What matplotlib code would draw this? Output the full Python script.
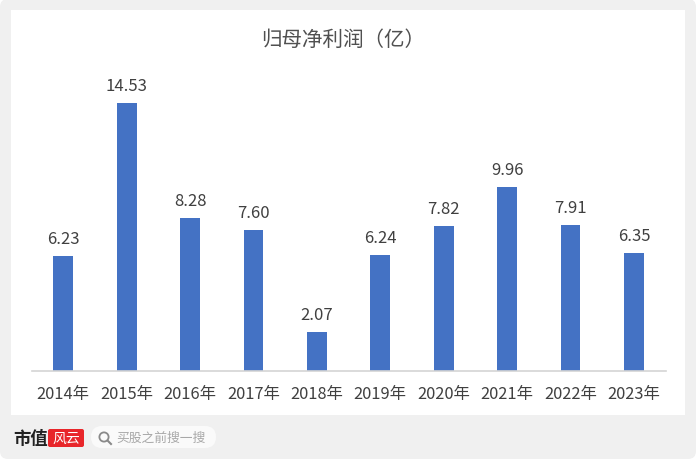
import matplotlib
matplotlib.use('Agg')
import matplotlib.pyplot as plt
from matplotlib.patches import FancyBboxPatch, Rectangle, Circle

plt.rcParams['font.family'] = ['Noto Sans CJK SC', 'DejaVu Sans']

years = ['2014年', '2015年', '2016年', '2017年', '2018年', '2019年', '2020年', '2021年', '2022年', '2023年']
profit = [6.23, 14.53, 8.28, 7.60, 2.07, 6.24, 7.82, 9.96, 7.91, 6.35]
labels = ['6.23', '14.53', '8.28', '7.60', '2.07', '6.24', '7.82', '9.96', '7.91', '6.35']

W, H = 696, 460
fig = plt.figure(figsize=(W / 100, H / 100), dpi=100, facecolor='white')

# page overlay in pixel coords
bg = fig.add_axes([0, 0, 1, 1])
bg.set_xlim(0, W)
bg.set_ylim(H, 0)
bg.axis('off')
bg.add_patch(FancyBboxPatch((0, 0), W, H, boxstyle='round,pad=0,rounding_size=8', fc='#f0f0f0', ec='none'))
bg.add_patch(Rectangle((11, 11), 674, 405, fc='white', ec='none'))

# logo + search box
bg.text(13, 439.5, '市值', fontsize=12.5, fontweight='bold', color='#222222', va='center', ha='left')
bg.add_patch(FancyBboxPatch((48, 430), 36, 18, boxstyle='round,pad=0,rounding_size=2', fc='#e8262a', ec='none'))
bg.text(66, 438.5, '风云', fontsize=10, color='white', va='center', ha='center', style='italic')
bg.add_patch(FancyBboxPatch((91, 427), 125, 22, boxstyle='round,pad=0,rounding_size=11', fc='#fafafa', ec='none'))
bg.add_patch(Circle((104, 438), 4.6, fc='none', ec='#8a8a8a', lw=1.3))
bg.plot([107.5, 111], [441.5, 445], color='#8a8a8a', lw=1.5)
bg.text(116.5, 438.5, '买股之前搜一搜', fontsize=9.2, color='#a8a8a8', va='center', ha='left')

# chart
ax = fig.add_axes([31.6 / W, (H - 371.5) / H, 634 / W, 295 / H])
ax.patch.set_alpha(0)
bars = ax.bar(range(len(years)), profit, width=0.315, color='#4472c4')
ax.set_xlim(-0.5, 9.5)
ax.set_ylim(0, 16)
ax.set_yticks([])
ax.set_xticks(range(len(years)))
ax.set_xticklabels(years, fontsize=11.8, color='#404040')
ax.tick_params(axis='x', length=0, pad=10.5)
for s in ['top', 'left', 'right']:
    ax.spines[s].set_visible(False)
ax.spines['bottom'].set_color('#d4d4d4')
ax.spines['bottom'].set_linewidth(1.2)

for b, t in zip(bars, labels):
    ax.annotate(t, (b.get_x() + b.get_width() / 2, b.get_height()), xytext=(0, 6.5),
                textcoords='offset points', ha='center', va='bottom', fontsize=12, color='#404040')

bg.text(343.5, 39.5, '归母净利润（亿）', fontsize=14.8, color='#505050', ha='center', va='center')

fig.savefig('out.png', dpi=100)
